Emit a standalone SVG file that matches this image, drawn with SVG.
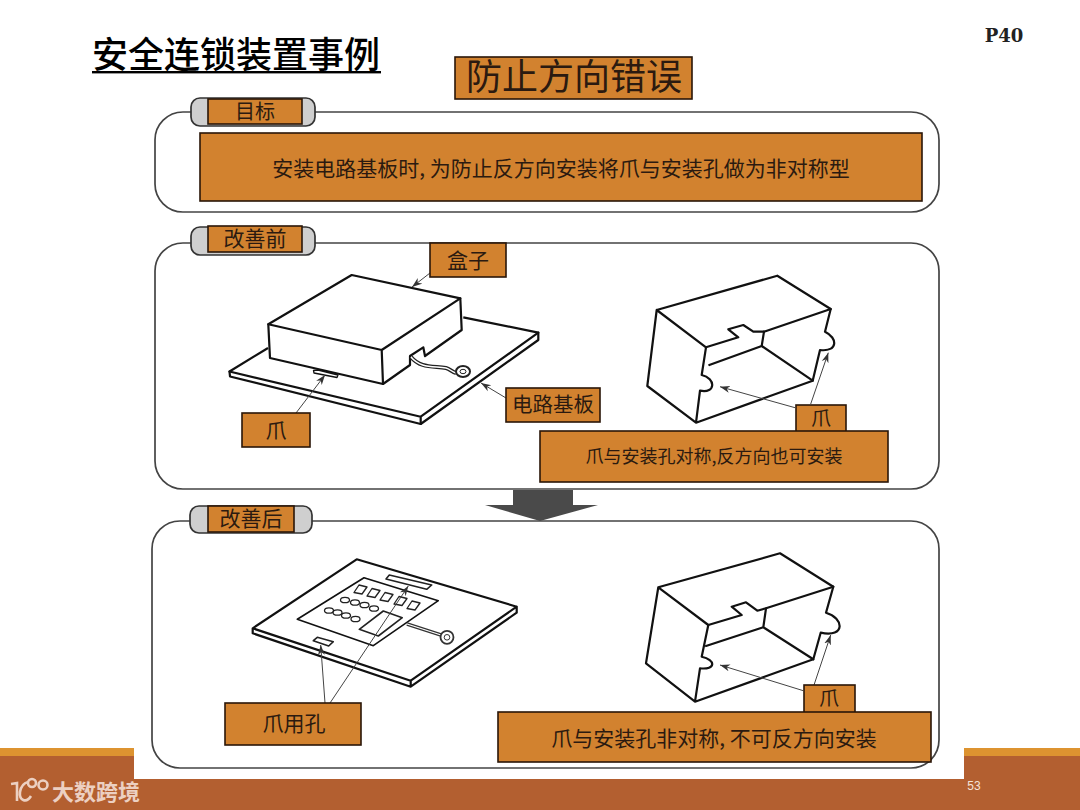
<svg xmlns="http://www.w3.org/2000/svg" width="1080" height="810" viewBox="0 0 1080 810">
<style>
text{font-family:"Noto Sans CJK SC","Liberation Sans",sans-serif;fill:#2b1a10;text-anchor:middle}
.lab{fill:#d2822f;stroke:#2a1608;stroke-width:1.6}
.panel{fill:#fff;stroke:#444;stroke-width:1.7}
.cap{fill:#cfcfcf;stroke:#333;stroke-width:1.7}
.d{fill:none;stroke:#111;stroke-width:2.2;stroke-linejoin:round;stroke-linecap:round}
.t{fill:none;stroke:#222;stroke-width:1.3;stroke-linejoin:round}
.w{fill:#fff;stroke:#111;stroke-width:2.2;stroke-linejoin:round}
.a{fill:none;stroke:#444;stroke-width:1;marker-end:url(#ah)}
</style>
<defs>
<marker id="ah" markerUnits="userSpaceOnUse" markerWidth="11" markerHeight="9" refX="10" refY="4" orient="auto">
<path d="M0 0.5L10 4L0 7.5L3 4Z" fill="#333"/>
</marker>
</defs>
<rect width="1080" height="810" fill="#fff"/>
<g id="footer">
<rect x="0" y="748" width="134" height="8" fill="#dd9330"/>
<rect x="0" y="756" width="134" height="24" fill="#b35f30"/>
<rect x="964" y="748" width="116" height="8" fill="#dd9330"/>
<rect x="964" y="756" width="116" height="24" fill="#b35f30"/>
<rect x="0" y="779" width="1080" height="31" fill="#b35f30"/>
<text x="974" y="790" style="font-family:'Liberation Sans',sans-serif;font-size:12px;fill:#f3e2d8">53</text>
<g fill="none" stroke="#ecd0c2" stroke-width="2.6">
<path d="M11 784L17 783L17 801M31 796C26 804 19 800 20 792C21 786 24 783 28 782"/>
<circle cx="32" cy="783" r="4"/><circle cx="43" cy="785" r="4.5"/>
</g>
<text x="96" y="800" style="font-size:22px;font-weight:700;fill:#ecd0c2">大数跨境</text>
</g>
<g id="title">
<text x="236" y="68" style="font-size:36px;font-weight:500;fill:#000">安全连锁装置事例</text>
<rect x="92" y="71" width="289" height="2.4" fill="#000"/>
<text x="1004" y="42" style="font-family:'DejaVu Serif',serif;font-size:18px;font-weight:700;fill:#222">P40</text>
</g>
<g id="heading">
<rect class="lab" x="455" y="57" width="237" height="42"/>
<text x="574" y="90" style="font-size:36px">防止方向错误</text>
</g>
<g id="panel-goal">
<rect class="panel" x="155" y="112" width="784" height="100" rx="28"/>
<rect class="cap" x="191" y="98" width="124" height="28" rx="9"/>
<rect class="lab" x="208" y="99" width="94" height="25"/>
<text x="255" y="119" style="font-size:20px">目标</text>
<rect class="lab" x="200" y="133" width="722" height="68"/>
<text x="561" y="176" style="font-size:21px">安装电路基板时, 为防止反方向安装将爪与安装孔做为非对称型</text>
</g>
<g id="panel-before">
<rect class="panel" x="155" y="243" width="784" height="246" rx="28"/>
<rect class="cap" x="191" y="227" width="124" height="28" rx="9"/>
<rect class="lab" x="208" y="226" width="94" height="26"/>
<text x="255" y="246" style="font-size:21px">改善前</text>
</g>
<g id="panel-after">
<rect class="panel" x="152" y="521" width="787" height="247" rx="28"/>
<rect class="cap" x="190" y="506" width="122" height="27" rx="9"/>
<rect class="lab" x="208" y="506" width="86" height="26"/>
<text x="251" y="526" style="font-size:21px">改善后</text>
</g>
<g id="down-arrow">
<path d="M513 490H573V505H598L540 521L485 505H513Z" fill="#4a4a4a"/>
</g>
<g id="board-before">
<path class="w" d="M268 348L229.500 371.500L230 376.500L420.700 424L538.300 340L538.300 332.700L463.300 317.300"/>
<path class="d" d="M229.500 371.500L420.700 416.700L538.300 332.700M420.700 416.700V424"/>
<path class="w" d="M351.700 275L460.300 298.300L461.700 330L425 356L423.300 347.300L410 356L410 365L383 384L270 358L268.300 324.300Z"/>
<path class="d" d="M268.300 324.300L381.700 350L460.300 298.300M381.700 350L383 384"/>
<path class="w" style="stroke-width:1.300" d="M313.500 370.500L314 373L337 377.500L338 375L326 372L318 370Z"/>
<path d="M411 357C420 368 432 366 446 368C450 369 452 372 456 373" fill="none" stroke="#222" stroke-width="4"/>
<path d="M411 357C420 368 432 366 446 368C450 369 452 372 456 373" fill="none" stroke="#fff" stroke-width="1.500"/>
<ellipse cx="463" cy="371.500" rx="7" ry="5.500" fill="#fff" stroke="#222" stroke-width="2"/>
<ellipse cx="463" cy="371.500" rx="3" ry="2.200" fill="#fff" stroke="#222"/>
</g>
<g id="box-before">
<path class="d" d="M656.700 310L777.300 275.700L830.700 309L825 331.700C838 338 838 352 820 350L812.700 380.700L696 422.700L700 390.700C716 394 716 378 701.700 375L706 347.300L656.700 310L647.300 386L696 422.700"/>
<path class="d" d="M830.700 309L764 331.700L753.300 331.700L743.300 325L728.300 329.300L738.300 337.300L706 347.300"/>
<path class="d" d="M709.300 365L761.700 346L764 331.700M761.700 346L812.700 380.700"/>
</g>
<g id="board-after">
<path class="d" d="M356.700 559.300L516.700 606.700V612.700L410.700 686.700L252.700 633.300V628.300ZM252.700 628.300L410.700 680.700L516.700 606.700M410.700 680.700V686.700"/>
<path class="d" style="stroke-width:1.600" d="M364 577.700L438.300 600.700L373.300 645.700L297.300 619.300Z"/>
<path class="t" style="stroke-width:1.600" d="M389.300 575L431.700 585L426.700 589.300L386 579ZM317.300 637.300L333.300 641.700L328.700 646L313.300 640.700Z"/>
<path class="t" style="stroke-width:1.600" d="M383.300 611L402.300 617.700L378.300 636L359.300 629.300Z"/>
<g class="t">
<path d="M354 592.500L359 585L367 587L362 594Z"/><path d="M367 596L372 588.500L380 590.500L375 597.500Z"/><path d="M380 600L385 592.500L393 594.500L388 601.500Z"/><path d="M394 604L399 596.500L407 598.500L402 605.500Z"/><path d="M407 608.500L412 601L420 603L415 610Z"/>
<ellipse cx="345" cy="600" rx="4.500" ry="2.700"/><ellipse cx="355" cy="602.500" rx="4.500" ry="2.700"/><ellipse cx="364.500" cy="605" rx="4.500" ry="2.700"/><ellipse cx="374" cy="608.500" rx="4.500" ry="2.700"/>
<ellipse cx="329" cy="610.500" rx="4.500" ry="2.700"/><ellipse cx="337.500" cy="612.500" rx="4.500" ry="2.700"/><ellipse cx="346" cy="615.500" rx="4.500" ry="2.700"/><ellipse cx="355.500" cy="619" rx="4.500" ry="2.700"/>
</g>
<path d="M407 624L441 635" fill="none" stroke="#333" stroke-width="3.500"/>
<path d="M407 624L441 635" fill="none" stroke="#fff" stroke-width="1.200"/>
<circle cx="447" cy="637.300" r="6.500" fill="#fff" stroke="#333" stroke-width="1.800"/>
<circle cx="447" cy="637.300" r="2.800" fill="#fff" stroke="#333"/>
</g>
<g id="box-after">
<path class="d" d="M658.300 587.300L780 553.300L833.300 586.700L826 612.700C844 618 846 638 820.700 632.700L813.300 659.300L695 701.700L700 668.300C716 670 716 660 701.700 656.700L708.300 625L658.300 587.300L646 663.300L695 701.700"/>
<path class="d" d="M833.300 586.700L766 608.300L757.300 610.700L746 602.300L731.700 606.700L741.700 615L708.300 625"/>
<path class="d" d="M706 646L763.300 627.300L766 608.300M763.300 627.300L813.300 659.300"/>
</g>
<g id="connectors">
<path class="a" d="M430 273L412 287"/>
<path class="a" d="M296 413L325 375"/>
<path class="a" d="M506 398L481 383"/>
<path class="a" d="M795 407.700L720 386.700"/>
<path class="a" d="M810.700 404L828.300 352.700"/>
<path class="a" d="M325 703L320.700 645"/>
<path class="a" d="M330 703L408.300 586"/>
<path class="a" d="M803.300 690.700L720 665"/>
<path class="a" d="M814 685L830.700 635"/>
</g>
<g id="label-box"><rect class="lab" x="430" y="243" width="76" height="34"/><text x="468" y="268" style="font-size:21px">盒子</text></g>
<g id="label-claw"><rect class="lab" x="242" y="413" width="68" height="34"/><text x="276" y="438" style="font-size:21px">爪</text></g>
<g id="label-board"><rect class="lab" x="506" y="388" width="94" height="34"/><text x="553" y="412" style="font-size:20.500px">电路基板</text></g>
<g id="label-claw-2"><rect class="lab" x="796" y="405" width="50" height="27"/><text x="821" y="426" style="font-size:20px">爪</text></g>
<g id="note-before"><rect class="lab" x="540" y="431" width="348" height="51"/><text x="714" y="463" style="font-size:18px">爪与安装孔对称,反方向也可安装</text></g>
<g id="label-hole"><rect class="lab" x="225" y="703" width="136" height="42"/><text x="294" y="731" style="font-size:21px">爪用孔</text></g>
<g id="label-claw-3"><rect class="lab" x="804" y="685" width="51" height="28"/><text x="829" y="706" style="font-size:20px">爪</text></g>
<g id="note-after"><rect class="lab" x="498" y="712" width="433" height="50"/><text x="714" y="746" style="font-size:21px">爪与安装孔非对称, 不可反方向安装</text></g>
</svg>
